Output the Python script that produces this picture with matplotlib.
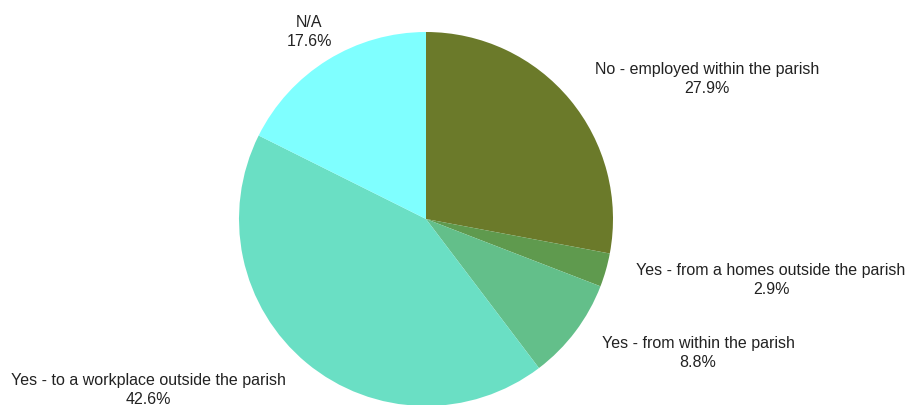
import matplotlib
matplotlib.use("Agg")
import matplotlib.pyplot as plt

plt.rcParams['font.family'] = ['Liberation Sans', 'DejaVu Sans']

labels = ["No - employed within the parish",
          "Yes - from a homes outside the parish",
          "Yes - from within the parish",
          "Yes - to a workplace outside the parish",
          "N/A"]
shares = [27.9, 2.9, 8.8, 42.6, 17.6]
colors = ["#6b7a2a", "#5f9a4e", "#63bf8a", "#6adfc4", "#7fffff"]

# label centres in figure pixels (x, y from top)
label_pos = [(707, 79), (771, 280), (698, 353), (148, 390), (309, 32)]

W, H = 909, 405
fig = plt.figure(figsize=(W / 100, H / 100), dpi=100)
ax = fig.add_axes([0, 0, 1, 1])
ax.set_xlim(0, W)
ax.set_ylim(0, H)
ax.set_aspect('equal')
ax.axis('off')

ax.pie(shares, colors=colors, startangle=90, counterclock=False,
       center=(426, H - 219), radius=187, frame=True,
       wedgeprops=dict(linewidth=0))
ax.set_xlim(0, W)
ax.set_ylim(0, H)
ax.axis('off')

for lab, val, (x, y) in zip(labels, shares, label_pos):
    ax.text(x, H - y, f"{lab}\n{val:.1f}%", ha='center', va='center',
            fontsize=11.5, color='#222222', linespacing=1.35)

fig.savefig("out.png", dpi=100)
